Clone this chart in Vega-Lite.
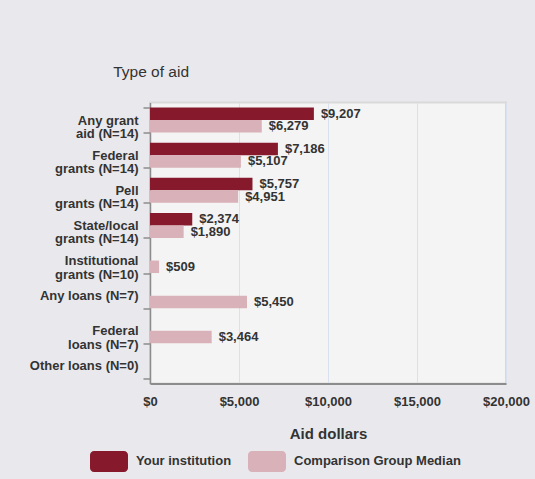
{
  "$schema": "https://vega.github.io/schema/vega-lite/v6.json",
  "width": 356,
  "height": 281,
  "autosize": {"type": "none"},
  "padding": {"left": 150, "top": 102.5, "right": 29, "bottom": 95.5},
  "background": "#e9e9ed",
  "config": {
    "font": "Liberation Sans",
    "view": {"fill": "#f4f4f4", "stroke": "#d9d9d9", "strokeWidth": 2}
  },
  "data": {
    "values": [
      {"type": "Any grant|aid (N=14)", "group": "Your institution", "value": 9207},
      {"type": "Any grant|aid (N=14)", "group": "Comparison Group Median", "value": 6279},
      {"type": "Federal|grants (N=14)", "group": "Your institution", "value": 7186},
      {"type": "Federal|grants (N=14)", "group": "Comparison Group Median", "value": 5107},
      {"type": "Pell|grants (N=14)", "group": "Your institution", "value": 5757},
      {"type": "Pell|grants (N=14)", "group": "Comparison Group Median", "value": 4951},
      {"type": "State/local|grants (N=14)", "group": "Your institution", "value": 2374},
      {"type": "State/local|grants (N=14)", "group": "Comparison Group Median", "value": 1890},
      {"type": "Institutional|grants (N=10)", "group": "Comparison Group Median", "value": 509},
      {"type": "Any loans (N=7)", "group": "Comparison Group Median", "value": 5450},
      {"type": "Federal|loans (N=7)", "group": "Comparison Group Median", "value": 3464}
    ]
  },
  "encoding": {
    "y": {
      "field": "type",
      "type": "nominal",
      "scale": {
        "domain": [
          "Any grant|aid (N=14)",
          "Federal|grants (N=14)",
          "Pell|grants (N=14)",
          "State/local|grants (N=14)",
          "Institutional|grants (N=10)",
          "Any loans (N=7)",
          "Federal|loans (N=7)",
          "Other loans (N=0)"
        ],
        "paddingInner": 0.29,
        "paddingOuter": 0.145
      },
      "axis": {
        "title": "Type of aid",
        "titleAngle": 0,
        "titleAlign": "left",
        "titleBaseline": "alphabetic",
        "titleX": -37.3,
        "titleY": -25.8,
        "titleFontSize": 15.5,
        "titleFontWeight": "normal",
        "titleColor": "#333333",
        "labelExpr": "split(datum.label, '|')",
        "labelFontSize": 13,
        "labelFontWeight": "bold",
        "labelColor": "#333333",
        "labelLineHeight": 13.5,
        "labelPadding": 5,
        "labelLimit": 0,
        "tickSize": 7,
        "tickBand": "extent",
        "tickColor": "#8c8c8c",
        "tickWidth": 1.5,
        "domainColor": "#8c8c8c",
        "domainWidth": 1.5,
        "grid": false
      }
    },
    "yOffset": {
      "field": "group",
      "type": "nominal",
      "scale": {"domain": ["Your institution", "Comparison Group Median"]}
    },
    "x": {
      "field": "value",
      "type": "quantitative",
      "scale": {"domain": [0, 20000], "nice": false},
      "axis": {
        "title": "Aid dollars",
        "titleFontSize": 15,
        "titleFontWeight": "bold",
        "titleColor": "#333333",
        "titleBaseline": "alphabetic",
        "titleY": 55,
        "values": [0, 5000, 10000, 15000, 20000],
        "format": "$,.0f",
        "labelFontSize": 13,
        "labelFontWeight": "bold",
        "labelColor": "#333333",
        "labelPadding": 12,
        "labelFlush": false,
        "ticks": false,
        "tickSize": 0,
        "domainColor": "#8c8c8c",
        "domainWidth": 2,
        "gridColor": "#dae1ee",
        "gridWidth": 1
      }
    }
  },
  "layer": [
    {
      "mark": {"type": "bar"},
      "encoding": {
        "color": {
          "field": "group",
          "type": "nominal",
          "scale": {
            "domain": ["Your institution", "Comparison Group Median"],
            "range": ["#861a2c", "#d9b1b8"]
          },
          "legend": {
            "title": null,
            "orient": "none",
            "legendX": -60,
            "legendY": 339.7,
            "direction": "horizontal",
            "columns": 2,
            "padding": 0,
            "symbolType": "M-0.79,-0.553 H0.79 A0.21,0.21 0 0 1 1,-0.343 V0.343 A0.21,0.21 0 0 1 0.79,0.553 H-0.79 A0.21,0.21 0 0 1 -1,0.343 V-0.343 A0.21,0.21 0 0 1 -0.79,-0.553 Z",
            "symbolSize": 1444,
            "symbolStrokeWidth": 0,
            "symbolOpacity": 1,
            "labelFontSize": 13,
            "labelFontWeight": "bold",
            "labelColor": "#333333",
            "labelOffset": 8,
            "labelLimit": 0,
            "columnPadding": 15
          }
        }
      }
    },
    {
      "mark": {
        "type": "text",
        "align": "left",
        "baseline": "middle",
        "dx": 7,
        "fontSize": 13,
        "fontWeight": "bold",
        "color": "#333333"
      },
      "encoding": {
        "text": {"field": "value", "type": "quantitative", "format": "$,.0f"}
      }
    }
  ]
}
